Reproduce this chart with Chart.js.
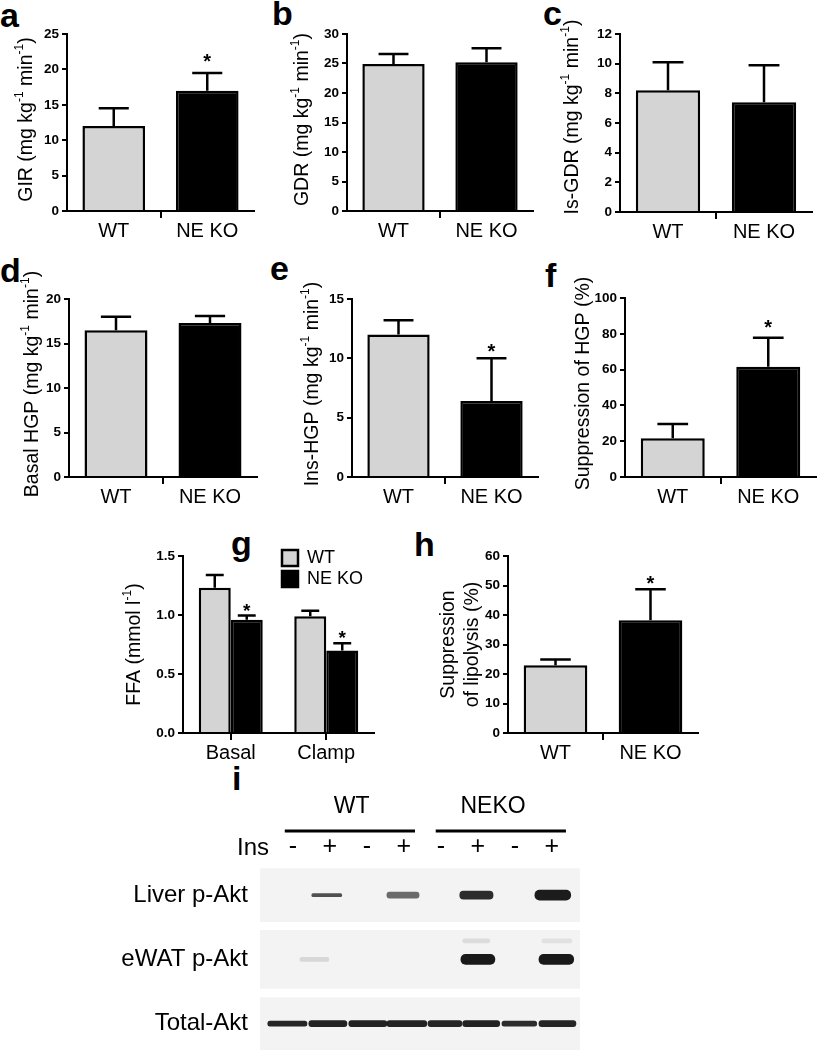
<!DOCTYPE html>
<html>
<head>
<meta charset="utf-8">
<script src="https://cdn.jsdelivr.net/npm/chart.js@4.4.1/dist/chart.umd.min.js"></script>
<style>
  html, body { margin: 0; padding: 0; background: #fff; width: 817px; height: 1050px; overflow: hidden; }
  body { position: relative; }
  canvas { position: absolute; }
  .tag { position: absolute; font: bold 34px "Liberation Sans", Arial, sans-serif; line-height: 34px; color: #000; }
</style>
</head>
<body>
<div class="tag" style="left:0px;top:-2px">a</div>
<div class="tag" style="left:272px;top:-4px">b</div>
<div class="tag" style="left:543px;top:-4px">c</div>
<div class="tag" style="left:0px;top:253px">d</div>
<div class="tag" style="left:270px;top:251px">e</div>
<div class="tag" style="left:545px;top:258px">f</div>
<div class="tag" style="left:231px;top:526px">g</div>
<div class="tag" style="left:414px;top:527px">h</div>
<div class="tag" style="left:232px;top:761px">i</div>

<canvas id="gir"></canvas>
<canvas id="gdr"></canvas>
<canvas id="isgdr"></canvas>
<canvas id="basalhgp"></canvas>
<canvas id="inshgp"></canvas>
<canvas id="hgpsupp"></canvas>
<canvas id="ffa"></canvas>
<canvas id="lipo"></canvas>
<canvas id="blot"></canvas>

<script>
// ---- data ----
const groups = ['WT', 'NE KO'];

const girTicks = [0, 5, 10, 15, 20, 25];
const girMean = [12.0, 17.0];
const girSem = [2.5, 2.5];
const girSig = [false, true];

const gdrTicks = [0, 5, 10, 15, 20, 25, 30];
const gdrMean = [24.9, 25.2];
const gdrSem = [1.7, 2.4];

const isGdrTicks = [0, 2, 4, 6, 8, 10, 12];
const isGdrMean = [8.2, 7.4];
const isGdrSem = [1.9, 2.5];

const basalHgpTicks = [0, 5, 10, 15, 20];
const basalHgpMean = [16.5, 17.3];
const basalHgpSem = [1.5, 0.8];

const insHgpTicks = [0, 5, 10, 15];
const insHgpMean = [12.0, 6.4];
const insHgpSem = [1.2, 3.6];
const insHgpSig = [false, true];

const hgpSuppTicks = [0, 20, 40, 60, 80, 100];
const hgpSuppMean = [21.6, 61.6];
const hgpSuppSem = [8.0, 16.2];
const hgpSuppSig = [false, true];

const ffaPhases = ['Basal', 'Clamp'];
const ffaTicks = [0, 0.5, 1.0, 1.5];
const ffaWtMean = [1.23, 0.99];
const ffaWtSem = [0.11, 0.045];
const ffaKoMean = [0.96, 0.70];
const ffaKoSem = [0.035, 0.06];
const ffaKoSig = [true, true];

const lipoTicks = [0, 10, 20, 30, 40, 50, 60];
const lipoMean = [23.0, 38.2];
const lipoSem = [1.9, 10.5];
const lipoSig = [false, true];

// western blot: lanes 1..8, rows top to bottom
const laneSpots = [1, 2, 3, 4, 5, 6, 7, 8];
const laneSigns = ['-', '+', '-', '+', '-', '+', '-', '+'];
const laneMin = 0.11;
const laneMax = 8.76;
const blotGroups = ['WT', 'NEKO'];
const groupFrom = [0.78, 4.86];
const groupTo = [4.3, 8.38];
const groupLabelAt = [2.59, 6.41];
const rowNames = ['Liver p-Akt', 'eWAT p-Akt', 'Total-Akt'];
const rowSpots = [0, 1, 2];

const liverFrom = [1.51, 3.54, 5.51, 7.54];
const liverTo = [2.32, 4.41, 6.41, 8.51];
const liverRow = [0, 0, 0, 0];
const liverShade = [0.72, 0.6, 0.88, 0.95];
const liverHeight = [3, 6, 8, 10];

const ewatFrom = [1.19, 5.54, 7.65, 5.59, 7.73];
const ewatTo = [1.97, 6.46, 8.59, 6.32, 8.54];
const ewatRow = [1, 1, 1, 0.71, 0.71];
const ewatShade = [0.12, 0.96, 0.96, 0.1, 0.08];
const ewatHeight = [4, 10, 10, 4, 4];

const totalFrom = [0.32, 1.43, 2.51, 3.54, 4.65, 5.59, 6.65, 7.65];
const totalTo = [1.38, 2.46, 3.54, 4.62, 5.57, 6.59, 7.59, 8.65];
const totalRow = [2, 2, 2, 2, 2, 2, 2, 2];
const totalShade = [0.9, 0.92, 0.92, 0.92, 0.9, 0.92, 0.88, 0.9];
const totalHeight = [5, 6, 6, 6, 6, 6, 5, 6];

// ---- look ----
const FONT = '"Liberation Sans", Arial, sans-serif';
const GREY = '#d4d4d4';
const INK = '#000';
const panelHeight = [53, 58, 52];

Chart.defaults.font.family = FONT;
Chart.defaults.color = INK;
Chart.defaults.animation = false;
Chart.defaults.responsive = false;
Chart.defaults.devicePixelRatio = 1;
Chart.defaults.plugins.tooltip.enabled = false;

// SEM whiskers (upward only) and significance stars
const errorBars = {
  id: 'errorBars',
  afterDatasetsDraw(chart, args, o) {
    const ctx = chart.ctx;
    const y = chart.scales.y;
    chart.data.datasets.forEach((ds, di) => {
      if (!ds.sem) return;
      chart.getDatasetMeta(di).data.forEach((bar, i) => {
        const top = y.getPixelForValue(ds.data[i] + ds.sem[i]);
        const half = bar.width * (o.cap || 0.24);
        ctx.save();
        ctx.strokeStyle = INK;
        ctx.lineWidth = 2.5;
        ctx.beginPath();
        ctx.moveTo(bar.x, bar.y);
        ctx.lineTo(bar.x, top);
        ctx.moveTo(bar.x - half, top);
        ctx.lineTo(bar.x + half, top);
        ctx.stroke();
        if (ds.sig && ds.sig[i]) {
          ctx.fillStyle = INK;
          ctx.font = `bold ${o.starSize || 20}px ${FONT}`;
          ctx.textAlign = 'center';
          ctx.textBaseline = 'alphabetic';
          ctx.fillText('*', bar.x, top - (o.starGap || 0));
        }
        ctx.restore();
      });
    });
  }
};

// rotated y titles with real superscripts, written as ^{...}
const yTitle = {
  id: 'yTitle',
  afterDraw(chart, args, o) {
    if (!o.lines) return;
    const {ctx, chartArea} = chart;
    const size = o.size || 19.5;
    const cy = (chartArea.top + chartArea.bottom) / 2 + (o.dy || 0);
    ctx.save();
    ctx.fillStyle = INK;
    ctx.textBaseline = 'middle';
    ctx.textAlign = 'left';
    o.lines.forEach((line, k) => {
      const bits = line.split(/\^\{([^}]*)\}/).map((t, j) => ({t, sup: j % 2 === 1}));
      let total = 0;
      bits.forEach(b => {
        ctx.font = `${b.sup ? size * 0.62 : size}px ${FONT}`;
        b.w = ctx.measureText(b.t).width;
        total += b.w;
      });
      ctx.save();
      ctx.translate(o.x + k * (o.gap || 24), cy);
      ctx.rotate(-Math.PI / 2);
      let x = -total / 2;
      bits.forEach(b => {
        ctx.font = `${b.sup ? size * 0.62 : size}px ${FONT}`;
        ctx.fillText(b.t, x, b.sup ? -size * 0.36 : 0);
        x += b.w;
      });
      ctx.restore();
    });
    ctx.restore();
  }
};

Chart.register(errorBars, yTitle);

function place(id, left, top, w, h) {
  const c = document.getElementById(id);
  c.width = w;
  c.height = h;
  c.style.left = left + 'px';
  c.style.top = top + 'px';
  return c;
}

function barPanel(o) {
  const canvas = place(o.id, o.left, o.top, o.w, o.h);
  const a = o.area;
  const midTick = o.midTick !== false;
  return new Chart(canvas, {
    type: 'bar',
    data: {labels: o.labels, datasets: o.datasets},
    options: {
      layout: {padding: {left: 0, top: a.t, right: o.w - a.r, bottom: 0}},
      plugins: {
        legend: o.legend || {display: false},
        errorBars: {starSize: o.starSize || 20, starGap: o.starGap || 0, cap: o.cap || 0.24},
        yTitle: {lines: o.title, x: o.titleX, gap: o.titleGap || 24, dy: o.titleDy || 0}
      },
      scales: {
        x: {
          offset: true,
          grid: {
            offset: midTick,
            drawOnChartArea: false,
            tickLength: 7,
            lineWidth: 2,
            color: c => (!midTick || c.index === 1) ? INK : 'rgba(0,0,0,0)'
          },
          border: {color: INK, width: 2},
          ticks: {font: {size: 20}, color: INK, padding: 1},
          afterFit: s => { s.height = o.h - a.b; s.paddingLeft = 0; s.paddingRight = 0; }
        },
        y: {
          min: o.ticks[0],
          max: o.ticks[o.ticks.length - 1],
          afterBuildTicks: s => { s.ticks = o.ticks.map(v => ({value: v})); },
          ticks: {
            font: {size: 13.5, weight: 'bold'},
            color: INK,
            padding: 3,
            callback: v => o.fmt ? o.fmt(v) : v
          },
          grid: {drawOnChartArea: false, tickLength: 5, lineWidth: 2, color: INK},
          border: {color: INK, width: 2},
          afterFit: s => { s.width = a.l; s.paddingTop = 0; s.paddingBottom = 0; }
        }
      }
    },
    plugins: o.extra || []
  });
}

function pair(mean, sem, sig) {
  return [{
    data: mean,
    sem: sem,
    sig: sig,
    backgroundColor: [GREY, INK],
    borderColor: INK,
    borderWidth: 2.5,
    categoryPercentage: 1,
    barPercentage: 0.67
  }];
}

barPanel({id: 'gir', left: 0, top: 0, w: 270, h: 260, area: {l: 67, r: 254, t: 34, b: 211},
  labels: groups, datasets: pair(girMean, girSem, girSig), ticks: girTicks,
  title: ['GIR (mg kg^{-1} min^{-1})'], titleX: 27, titleDy: -3, starGap: 5});

barPanel({id: 'gdr', left: 270, top: 0, w: 265, h: 260, area: {l: 77, r: 263, t: 34, b: 211},
  labels: groups, datasets: pair(gdrMean, gdrSem), ticks: gdrTicks,
  title: ['GDR (mg kg^{-1} min^{-1})'], titleX: 33, titleDy: -3});

barPanel({id: 'isgdr', left: 535, top: 0, w: 282, h: 260, area: {l: 85, r: 277, t: 34, b: 212},
  labels: groups, datasets: pair(isGdrMean, isGdrSem), ticks: isGdrTicks,
  title: ['Is-GDR (mg kg^{-1} min^{-1})'], titleX: 38, titleDy: -6});

barPanel({id: 'basalhgp', left: 0, top: 260, w: 270, h: 260, area: {l: 69, r: 257, t: 39, b: 217},
  labels: groups, datasets: pair(basalHgpMean, basalHgpSem), ticks: basalHgpTicks,
  title: ['Basal HGP (mg kg^{-1} min^{-1})'], titleX: 33, titleDy: -4});

barPanel({id: 'inshgp', left: 270, top: 260, w: 270, h: 260, area: {l: 82, r: 268, t: 39, b: 217},
  labels: groups, datasets: pair(insHgpMean, insHgpSem, insHgpSig), ticks: insHgpTicks,
  title: ['Ins-HGP (mg kg^{-1} min^{-1})'], titleX: 43, titleDy: -4, starGap: 0});

barPanel({id: 'hgpsupp', left: 535, top: 260, w: 282, h: 260, area: {l: 90, r: 281, t: 38, b: 217},
  labels: groups, datasets: pair(hgpSuppMean, hgpSuppSem, hgpSuppSig), ticks: hgpSuppTicks,
  title: ['Suppression of HGP (%)'], titleX: 49, titleDy: -4, starGap: 4});

barPanel({id: 'ffa', left: 100, top: 520, w: 300, h: 260, area: {l: 83, r: 274, t: 36, b: 213},
  labels: ffaPhases, ticks: ffaTicks, fmt: v => v.toFixed(1), midTick: false,
  title: ['FFA (mmol l^{-1})'], titleX: 35, starGap: -1, starSize: 19, cap: 0.28,
  datasets: [
    {label: 'WT', data: ffaWtMean, sem: ffaWtSem, backgroundColor: GREY, borderColor: INK,
      borderWidth: 2.5, categoryPercentage: 0.67, barPercentage: 1},
    {label: 'NE KO', data: ffaKoMean, sem: ffaKoSem, sig: ffaKoSig, backgroundColor: INK, borderColor: INK,
      borderWidth: 2.5, categoryPercentage: 0.67, barPercentage: 1}
  ],
  legend: {display: true, position: 'chartArea', align: 'start',
    labels: {boxWidth: 16, boxHeight: 16, padding: 3, color: INK, font: {size: 18}}},
  extra: [{
    id: 'legendSpot',
    afterLayout(chart) {
      const lg = chart.legend;
      const ca = chart.chartArea;
      lg.left = ca.left + 96;
      lg.right = lg.left + lg.width;
      lg.top = ca.top - 10;
      lg.bottom = lg.top + lg.height;
    }
  }]
});

barPanel({id: 'lipo', left: 430, top: 520, w: 300, h: 260, area: {l: 78, r: 268, t: 36, b: 213},
  labels: groups, datasets: pair(lipoMean, lipoSem, lipoSig), ticks: lipoTicks,
  title: ['Suppression', 'of lipolysis (%)'], titleX: 19, titleGap: 24, starGap: -1});

// ---- panel i: blot ----
// Chart.js paints dataset 0 last, so bands go in first and the grey membranes last
const blotSets = [];
function addBands(from, to, row, shade, height) {
  from.forEach((f, i) => blotSets.push({
    data: [{x: [f, to[i]], y: row[i]}],
    backgroundColor: `rgba(16,16,16,${shade[i]})`,
    borderWidth: 0,
    borderSkipped: false,
    borderRadius: height[i] / 2,
    barThickness: height[i],
    grouped: false
  }));
}
addBands(liverFrom, liverTo, liverRow, liverShade, liverHeight);
addBands(ewatFrom, ewatTo, ewatRow, ewatShade, ewatHeight);
addBands(totalFrom, totalTo, totalRow, totalShade, totalHeight);
rowSpots.forEach((r, i) => blotSets.push({
  data: [{x: [laneMin, laneMax], y: r}],
  backgroundColor: '#f3f3f3', borderWidth: 0, barThickness: panelHeight[i], grouped: false
}));

const blotHeads = {
  id: 'blotHeads',
  afterDraw(chart, args, o) {
    const {ctx, chartArea: ca} = chart;
    const x = chart.scales.x;
    ctx.save();
    ctx.fillStyle = INK;
    ctx.strokeStyle = INK;
    ctx.textBaseline = 'middle';
    ctx.textAlign = 'center';
    ctx.font = `23px ${FONT}`;
    blotGroups.forEach((g, i) => {
      ctx.fillText(g, x.getPixelForValue(groupLabelAt[i]), ca.top + o.textDy);
      ctx.lineWidth = 3;
      ctx.beginPath();
      ctx.moveTo(x.getPixelForValue(groupFrom[i]), ca.top + o.lineDy);
      ctx.lineTo(x.getPixelForValue(groupTo[i]), ca.top + o.lineDy);
      ctx.stroke();
    });
    ctx.font = `24px ${FONT}`;
    ctx.textAlign = 'right';
    ctx.fillText('Ins', ca.left + o.insDx, ca.top + o.insDy);
    ctx.restore();
  }
};

new Chart(place('blot', 0, 780, 600, 270), {
  type: 'bar',
  data: {datasets: blotSets},
  options: {
    indexAxis: 'y',
    layout: {padding: {left: 0, top: 0, right: 20, bottom: 0}},
    plugins: {
      legend: {display: false},
      blotHeads: {textDy: -58, lineDy: -34, insDx: 9, insDy: -17}
    },
    scales: {
      x: {
        type: 'linear',
        position: 'top',
        min: laneMin,
        max: laneMax,
        afterBuildTicks: s => { s.ticks = laneSpots.map(v => ({value: v})); },
        ticks: {
          autoSkip: false, maxRotation: 0, padding: 5, color: INK,
          font: {size: 25, lineHeight: 1},
          callback: v => laneSigns[laneSpots.indexOf(v)]
        },
        grid: {display: false, drawTicks: false},
        border: {display: false},
        afterFit: s => { s.height = 85; s.paddingLeft = 0; s.paddingRight = 0; }
      },
      y: {
        type: 'linear',
        reverse: true,
        offset: false,
        min: -0.47,
        max: 2.41,
        afterBuildTicks: s => { s.ticks = rowSpots.map(v => ({value: v})); },
        ticks: {
          autoSkip: false, padding: 12, color: INK,
          font: {size: 24},
          callback: v => rowNames[rowSpots.indexOf(v)]
        },
        grid: {display: false, drawTicks: false, offset: false},
        border: {display: false},
        afterFit: s => { s.width = 260; s.paddingTop = 0; s.paddingBottom = 0; }
      }
    }
  },
  plugins: [blotHeads]
});
</script>
</body>
</html>
